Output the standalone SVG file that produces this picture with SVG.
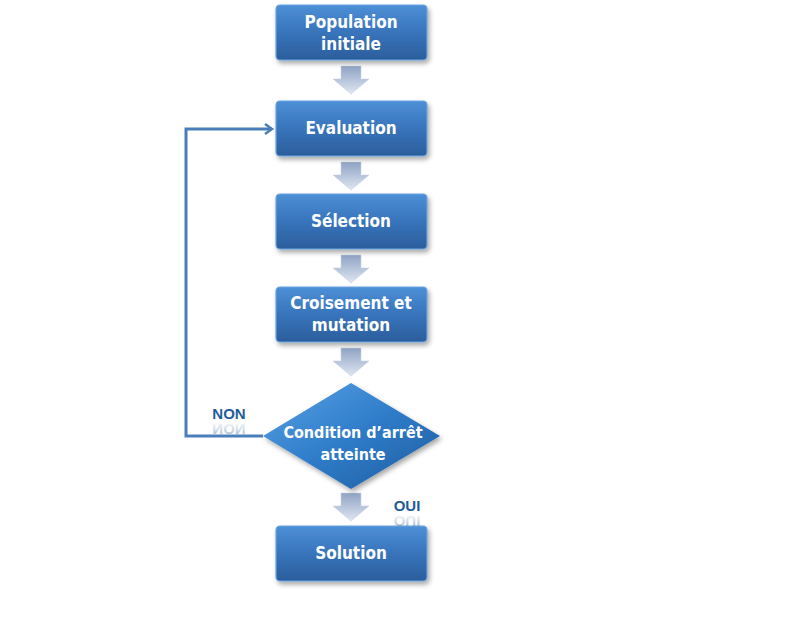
<svg xmlns="http://www.w3.org/2000/svg" width="800" height="622" viewBox="0 0 800 622">
<defs>
<linearGradient id="box" x1="0" y1="0" x2="0" y2="1">
<stop offset="0" stop-color="#4d8fd6"/>
<stop offset="0.5" stop-color="#3874bb"/>
<stop offset="1" stop-color="#2b5e9c"/>
</linearGradient>
<linearGradient id="dia" x1="0" y1="0" x2="1" y2="1">
<stop offset="0" stop-color="#5aa2e6"/>
<stop offset="0.5" stop-color="#2f7cc9"/>
<stop offset="1" stop-color="#1f5c9e"/>
</linearGradient>
<linearGradient id="arr" x1="0" y1="0" x2="0" y2="1">
<stop offset="0" stop-color="#8fa3c4"/>
<stop offset="1" stop-color="#dfe6f2"/>
</linearGradient>
<linearGradient id="refl" x1="0" y1="0" x2="0" y2="1">
<stop offset="0" stop-color="#1f5c99" stop-opacity="0.45"/>
<stop offset="1" stop-color="#1f5c99" stop-opacity="0"/>
</linearGradient>
<marker id="open" markerWidth="12" markerHeight="12" refX="9" refY="6" orient="auto" markerUnits="userSpaceOnUse">
<path d="M2,1 L9,6 L2,11" fill="none" stroke="#4a7ebb" stroke-width="2.5"/>
</marker>
<filter id="sh" x="-10%" y="-10%" width="130%" height="140%">
<feGaussianBlur in="SourceAlpha" stdDeviation="2.5"/>
<feOffset dx="2" dy="3"/>
<feComponentTransfer><feFuncA type="linear" slope="0.35"/></feComponentTransfer>
<feMerge><feMergeNode/><feMergeNode in="SourceGraphic"/></feMerge>
</filter>
<path id="blk" d="M-10,0 H10 V13 H18 L0,28 L-18,13 H-10 Z"/>
</defs>
<style>
.box{fill:url(#box);stroke:#6aa3e0;stroke-width:1.2;filter:url(#sh)}
.t{font-family:"DejaVu Sans Condensed","DejaVu Sans",sans-serif;font-weight:bold;font-size:17px;fill:#ffffff;text-anchor:middle}
.lbl{font-family:"Liberation Sans",Arial,sans-serif;font-weight:bold;font-size:15px;fill:#1f5c99;text-anchor:middle}
.rf{fill:url(#refl)}
.ba{fill:url(#arr);stroke:#c9d3e3;stroke-width:0.6}
</style>
<rect width="800" height="622" fill="#ffffff"/>
<g id="connectors">
<use href="#blk" x="351" y="66" class="ba"/>
<use href="#blk" x="351" y="162" class="ba"/>
<use href="#blk" x="351" y="255" class="ba"/>
<use href="#blk" x="351" y="348" class="ba"/>
<use href="#blk" x="351" y="493" class="ba"/>
<polyline points="263,436 186,436 186,129 272,129" fill="none" stroke="#4a7ebb" stroke-width="3" marker-end="url(#open)"/>
</g>
<g id="n1">
<rect class="box" x="276" y="5" width="151" height="55" rx="4"/>
<text class="t" x="351" y="28">Population</text>
<text class="t" x="351" y="50">initiale</text>
</g>
<g id="n2">
<rect class="box" x="276" y="101" width="151" height="55" rx="4"/>
<text class="t" x="351" y="134">Evaluation</text>
</g>
<g id="n3">
<rect class="box" x="276" y="194" width="151" height="55" rx="4"/>
<text class="t" x="351" y="227">Sélection</text>
</g>
<g id="n4">
<rect class="box" x="276" y="287" width="151" height="55" rx="4"/>
<text class="t" x="351" y="309">Croisement et</text>
<text class="t" x="351" y="331">mutation</text>
</g>
<g id="n5">
<polygon points="351,383 440,436 351,489 263,436" fill="url(#dia)" filter="url(#sh)"/>
<text class="t" x="353" y="438" style="font-size:16px">Condition d’arrêt</text>
<text class="t" x="353" y="460" style="font-size:16px">atteinte</text>
</g>
<g id="n6">
<rect class="box" x="276" y="526" width="151" height="55" rx="4"/>
<text class="t" x="351" y="559">Solution</text>
</g>
<g id="labels">
<text class="lbl" x="229" y="419">NON</text>
<text class="lbl rf" x="229" y="419" transform="translate(0,843) scale(1,-1)">NON</text>
<text class="lbl" x="407" y="511">OUI</text>
<text class="lbl rf" x="407" y="511" transform="translate(0,1027) scale(1,-1)">OUI</text>
</g>
</svg>
